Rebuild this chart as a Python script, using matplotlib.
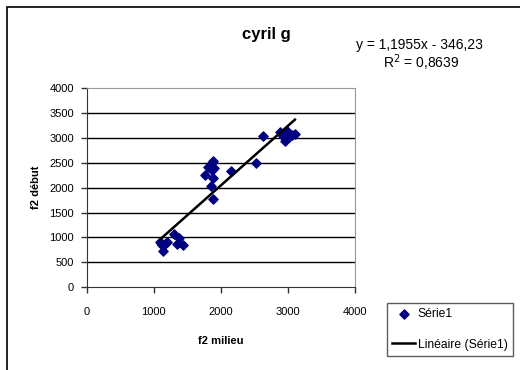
import numpy as np
import matplotlib
matplotlib.use("Agg")
import matplotlib.pyplot as plt
from matplotlib.patches import Rectangle

plt.rcParams['font.family'] = ['Liberation Sans', 'DejaVu Sans']

# f2 milieu / f2 debut values
f2_milieu = [1092, 1117, 1142, 1201, 1110, 1160, 1305, 1341, 1380, 1430,
             1763, 1812, 1847, 1877, 1902, 1862, 1877, 1847, 1877, 2146,
             2523, 2632,
             2880, 2930, 2955, 2980, 3019, 2990, 3104, 3054]
f2_debut = [912, 846, 732, 912, 880, 860, 1066, 866, 980, 846,
            2260, 2413, 2466, 2533, 2400, 2360, 2193, 2040, 1780, 2326,
            2493, 3046,
            3113, 3046, 2933, 3093, 3013, 3146, 3080, 3066]

# trend line as given in the chart
slope = 1.1955
intercept = -346.23
r2 = 0.8639

x_ticks = [0, 1000, 2000, 3000, 4000]
y_ticks = [0, 500, 1000, 1500, 2000, 2500, 3000, 3500, 4000]

W, H = 520, 370
fig = plt.figure(figsize=(W / 100, H / 100), dpi=100)
fig.patch.set_facecolor('white')

# outer chart border
fig.patches.append(Rectangle((7 / W, -0.01), 1.05, 1 - 7 / H + 0.01, transform=fig.transFigure,
                             fill=False, edgecolor='black', lw=1.2))

ax = fig.add_axes([86.7 / W, 1 - 287.3 / H, (355 - 86.7) / W, (287.3 - 88) / H])

ax.scatter(f2_milieu, f2_debut, marker='D', s=22, color='#000080', zorder=3, label='Série1')
xs = np.array([min(f2_milieu), max(f2_milieu)])
ax.plot(xs, slope * xs + intercept, color='black', lw=1.8, zorder=4, label='Linéaire (Série1)')

ax.set_xlim(0, 4000)
ax.set_ylim(0, 4000)
ax.set_xticks(x_ticks)
ax.set_yticks(y_ticks)
for yv in y_ticks[1:-1]:
    ax.axhline(yv, color='black', lw=1, zorder=1)

ax.tick_params(direction='out', length=4, width=1, colors='#333333', labelsize=8,
               labelcolor='black')
ax.tick_params(axis='x', pad=10)
ax.tick_params(axis='y', pad=5)
for s in ['left', 'bottom']:
    ax.spines[s].set_color('#333333')
for s in ['top', 'right']:
    ax.spines[s].set_color('#999999')

ax.set_xlabel('f2 milieu', fontsize=8, fontweight='bold', labelpad=14)
ax.set_ylabel('f2 début', fontsize=8, fontweight='bold', labelpad=6)

fig.text(266 / W, 1 - 35 / H, 'cyril g', fontsize=12, fontweight='bold', ha='center', va='center')
fig.text(419 / W, 1 - 45 / H, 'y = 1,1955x - 346,23', fontsize=10, ha='center', va='center')
fig.text(421 / W, 1 - 63 / H, 'R$^2$ = 0,8639', fontsize=10, ha='center', va='center')

leg = fig.legend(loc='upper left', bbox_to_anchor=(387 / W, 1 - 303 / H), borderaxespad=0,
                 fontsize=8.7, frameon=True, fancybox=False, edgecolor='#333333',
                 handlelength=1.9, handletextpad=0.2, borderpad=0.45, labelspacing=1.5)
leg.get_frame().set_linewidth(1)

fig.savefig('out.png', dpi=100, facecolor='white')
